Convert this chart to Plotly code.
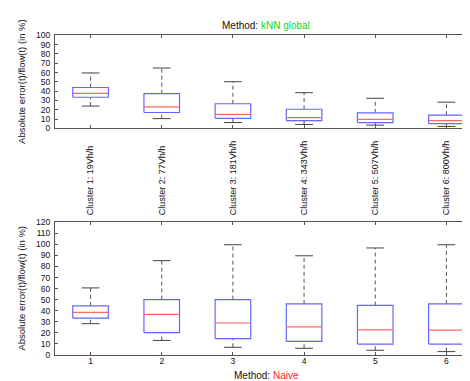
import plotly.graph_objects as go

clusters = [1, 2, 3, 4, 5, 6]
cluster_labels = ["Cluster 1: 19Vh/h", "Cluster 2: 77Vh/h", "Cluster 3: 181Vh/h",
                  "Cluster 4: 343Vh/h", "Cluster 5: 507Vh/h", "Cluster 6: 800Vh/h"]

# kNN global (top)
knn_low = [24, 10.5, 6.3, 4.2, 3.5, 2.1]
knn_q1 = [33.5, 17.1, 10.8, 8.4, 6.3, 5.2]
knn_med = [37.7, 23.1, 15.0, 11.5, 9.7, 8.4]
knn_q3 = [44.0, 37.3, 26.5, 20.6, 16.7, 14.3]
knn_high = [59.6, 64.9, 50.2, 38.4, 32.4, 28.2]

# Naive (bottom)
naive_low = [28.2, 13.0, 6.8, 5.9, 4.1, 2.9]
naive_q1 = [33.2, 20.0, 14.7, 12.1, 9.7, 9.7]
naive_med = [38.5, 36.7, 28.8, 25.3, 22.6, 22.3]
naive_q3 = [44.4, 50.0, 50.0, 46.2, 44.7, 46.2]
naive_high = [60.6, 85.3, 99.7, 89.7, 96.8, 99.7]

BOX_HALF = 0.25
CAP_HALF = 0.125
FONT = "Liberation Sans, Arial, sans-serif"
AX_COLOR = "#555555"

fig = go.Figure()


def add_boxes(low, q1, med, q3, high, xa, ya):
    bx, by, mx, my, wx, wy, cx, cy = [], [], [], [], [], [], [], []
    for c, lo, a, m, b, hi in zip(clusters, low, q1, med, q3, high):
        bx += [c - BOX_HALF, c + BOX_HALF, c + BOX_HALF, c - BOX_HALF, c - BOX_HALF, None]
        by += [a, a, b, b, a, None]
        mx += [c - BOX_HALF, c + BOX_HALF, None]
        my += [m, m, None]
        wx += [c, c, None, c, c, None]
        wy += [lo, a, None, b, hi, None]
        cx += [c - CAP_HALF, c + CAP_HALF, None, c - CAP_HALF, c + CAP_HALF, None]
        cy += [lo, lo, None, hi, hi, None]
    common = dict(mode="lines", xaxis=xa, yaxis=ya, showlegend=False, hoverinfo="skip")
    fig.add_trace(go.Scatter(x=wx, y=wy, line=dict(color="#555555", width=1, dash="4px,3px"), **common))
    fig.add_trace(go.Scatter(x=cx, y=cy, line=dict(color="#444444", width=1), **common))
    fig.add_trace(go.Scatter(x=bx, y=by, line=dict(color="#6666ff", width=1.2), **common))
    fig.add_trace(go.Scatter(x=mx, y=my, line=dict(color="#ff6666", width=1.2), **common))


add_boxes(knn_low, knn_q1, knn_med, knn_q3, knn_high, "x", "y")
add_boxes(naive_low, naive_q1, naive_med, naive_q3, naive_high, "x2", "y2")

# invisible trace so the label axis on top of the lower subplot is drawn
fig.add_trace(go.Scatter(x=clusters, y=naive_med, mode="markers", marker=dict(opacity=0),
                         xaxis="x3", yaxis="y2", showlegend=False, hoverinfo="skip"))

W, H = 470, 381
L, R = 47, 1
xr = [0.5, 6.43]

top_dom = [1 - 118.5 / H, 1 - 23 / H]
bot_dom = [1 - 351 / H, 1 - 215 / H]

TICKFONT = dict(family=FONT, size=8.5, color="#111111")
axis_common = dict(showline=True, linecolor=AX_COLOR, linewidth=1, mirror="ticks",
                   ticks="inside", ticklen=3, tickcolor=AX_COLOR, showgrid=False, zeroline=False,
                   tickfont=TICKFONT)

fig.update_layout(
    width=W, height=H,
    margin=dict(l=L, r=R, t=0, b=0),
    plot_bgcolor="white", paper_bgcolor="white",
    font=dict(family=FONT, size=10, color="#111111"),
    xaxis=dict(domain=[0, 1], range=xr, anchor="y", tickvals=clusters, showticklabels=False, **axis_common),
    yaxis=dict(domain=top_dom, range=[0, 100], dtick=10, anchor="x", ticklabelstandoff=2, **axis_common),
    xaxis2=dict(domain=[0, 1], range=xr, anchor="y2", tickvals=clusters,
                ticktext=[str(c) for c in clusters], ticklabelstandoff=-2, **axis_common),
    yaxis2=dict(domain=bot_dom, range=[0, 120], dtick=10, anchor="x2", ticklabelstandoff=2, **axis_common),
    xaxis3=dict(overlaying="x2", anchor="y2", side="top", range=xr, tickvals=clusters, ticktext=cluster_labels,
                tickangle=-90, ticks="", showline=False, showgrid=False, zeroline=False,
                ticklabelstandoff=6, tickfont=dict(family=FONT, size=9, color="#111111")),
)

ytitle = "Absolute error(t)/flow(t) (in %)"
xpix = 14
for dom in (top_dom, bot_dom):
    fig.add_annotation(text=ytitle, textangle=-90, xref="paper", yref="paper",
                       x=(xpix - L) / (W - L - R), y=sum(dom) / 2, showarrow=False,
                       xanchor="center", yanchor="middle", font=dict(family=FONT, size=9.5))

fig.add_annotation(text="Method: <span style='color:#11dd11'>kNN global</span>", xref="paper", yref="paper",
                   x=0.5, y=1 - 12.5 / H, showarrow=False, xanchor="center", yanchor="middle",
                   font=dict(family=FONT, size=10))
fig.add_annotation(text="Method: <span style='color:#ff2222'>Naive</span>", xref="paper", yref="paper",
                   x=0.5, y=1 - 372.5 / H, showarrow=False, xanchor="center", yanchor="middle",
                   font=dict(family=FONT, size=10))

fig.write_html("out.html")
